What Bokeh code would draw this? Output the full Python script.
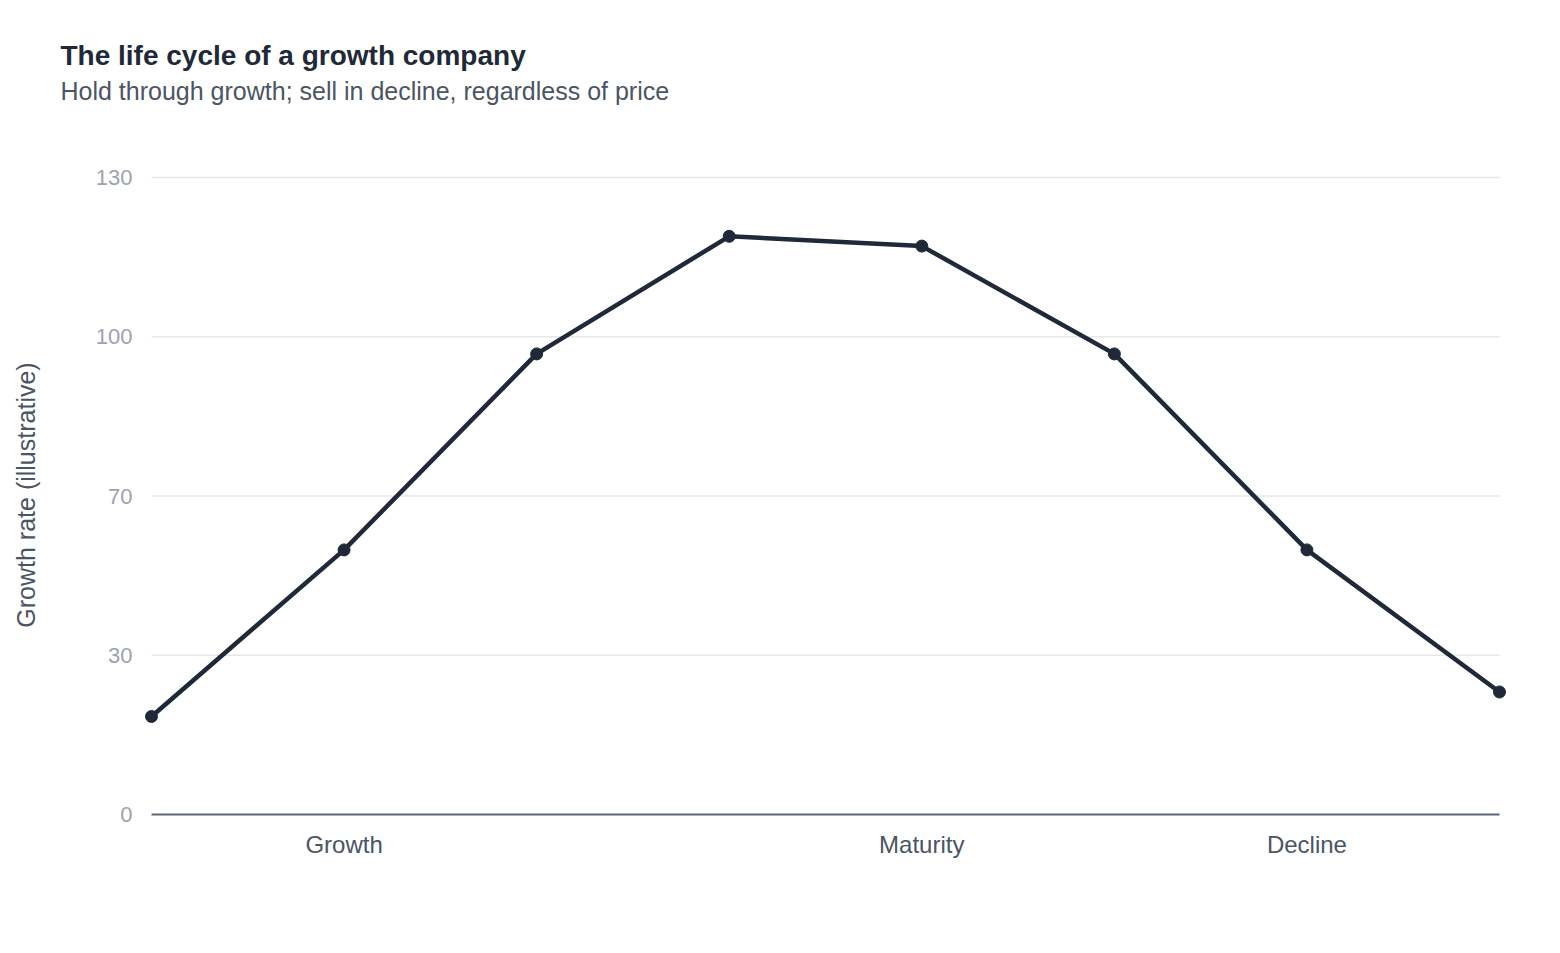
from bokeh.plotting import figure
from bokeh.models import Range1d, FixedTicker, Title, ColumnDataSource
from bokeh.embed import file_html
from bokeh.resources import INLINE

# ---- data ----
stage_index = [0, 1, 2, 3, 4, 5, 6, 7]
growth_rate = [20, 54, 94, 118, 116, 94, 54, 25]
x_tick_positions = [1, 4, 6]
x_tick_labels = ["Growth", "Maturity", "Decline"]
y_tick_values = [0, 32.5, 65, 97.5, 130]
y_tick_labels = ["0", "30", "70", "100", "130"]

title_text = "The life cycle of a growth company"
subtitle_text = "Hold through growth; sell in decline, regardless of price"
y_axis_label = "Growth rate (illustrative)"

# ---- style ----
FONT = "Liberation Sans"
DARK = "#1f2937"
SLATE = "#4b5563"
LIGHT = "#9ca3af"
GRID = "#e5e7eb"

data_w = 1348.0       # pixels spanned by x 0..7
x_pad_px = 8.0
x_span = stage_index[-1] - stage_index[0]
x_pad = x_pad_px * x_span / data_w
frame_w = int(data_w + 2 * x_pad_px)

data_h = 637.0        # pixels spanned by y 0..130
y_top = y_tick_values[-1]
y_pad_px = 2.0
y_pad = y_pad_px * y_top / data_h
frame_h = int(data_h + y_pad_px)

p = figure(
    width=1560, height=953,
    frame_width=frame_w, frame_height=frame_h,
    x_range=Range1d(stage_index[0] - x_pad, stage_index[-1] + x_pad),
    y_range=Range1d(0, y_top + y_pad),
    output_backend="svg", toolbar_location=None,
    min_border_left=143, min_border_top=175, min_border_right=10, min_border_bottom=10,
)
p.outline_line_color = None
p.background_fill_color = "white"
p.border_fill_color = "white"
p.xgrid.visible = False
p.ygrid.visible = False

# subtitle first (closest to frame), then title
sub = Title(text=subtitle_text, align="left", text_font=FONT, text_font_size="25px",
            text_font_style="normal", text_color=SLATE, offset=-83, standoff=142)
p.add_layout(sub, "above")
ttl = Title(text=title_text, align="left", text_font=FONT, text_font_size="28px",
            text_font_style="bold", text_color=DARK, offset=-83, standoff=-134)
p.add_layout(ttl, "above")

# horizontal gridlines spanning the data extent
grid_src = ColumnDataSource(dict(
    x0=[stage_index[0]] * (len(y_tick_values) - 1),
    x1=[stage_index[-1]] * (len(y_tick_values) - 1),
    y=y_tick_values[1:],
))
p.segment(x0="x0", x1="x1", y0="y", y1="y", source=grid_src, line_color=GRID, line_width=1.5)

src = ColumnDataSource(dict(x=stage_index, y=growth_rate))
p.line("x", "y", source=src, line_color=DARK, line_width=4.5, line_join="round")
p.scatter("x", "y", source=src, size=12, fill_color=DARK, line_color=DARK)

# x axis
xa = p.xaxis[0]
xa.ticker = FixedTicker(ticks=x_tick_positions)
xa.major_label_overrides = {k: v for k, v in zip(x_tick_positions, x_tick_labels)}
xa.bounds = (stage_index[0], stage_index[-1])
xa.axis_line_color = "#5b6678"
xa.axis_line_width = 2
xa.major_tick_line_color = None
xa.minor_tick_line_color = None
xa.major_label_text_font = FONT
xa.major_label_text_font_size = "24px"
xa.major_label_text_color = SLATE
xa.major_label_standoff = 10

# y axis
ya = p.yaxis[0]
ya.ticker = FixedTicker(ticks=y_tick_values)
ya.major_label_overrides = {k: v for k, v in zip(y_tick_values, y_tick_labels)}
ya.axis_line_color = None
ya.major_tick_line_color = None
ya.minor_tick_line_color = None
ya.major_label_text_font = FONT
ya.major_label_text_font_size = "22px"
ya.major_label_text_color = LIGHT
ya.major_label_standoff = 5
ya.axis_label = y_axis_label
ya.axis_label_text_font = FONT
ya.axis_label_text_font_size = "25px"
ya.axis_label_text_font_style = "normal"
ya.axis_label_text_color = SLATE
ya.axis_label_standoff = 53

open("out.html", "w").write(file_html(p, INLINE))
